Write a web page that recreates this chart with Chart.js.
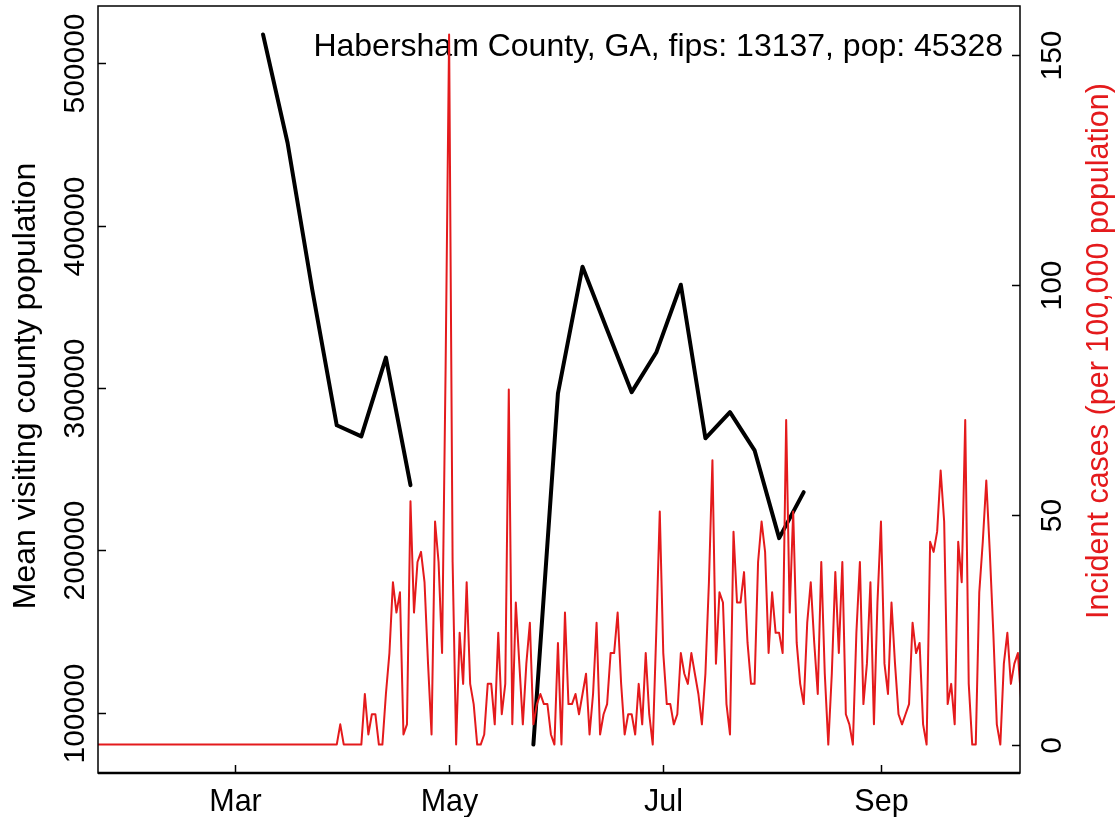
<!DOCTYPE html>
<html>
<head>
<meta charset="utf-8">
<script src="https://cdn.jsdelivr.net/npm/chart.js@4.4.1/dist/chart.umd.min.js"></script>
<style>
  html, body { margin: 0; padding: 0; background: white; }
  #wrap { width: 1119px; height: 817px; }
</style>
</head>
<body>
<div id="wrap"><canvas id="chart" width="1119" height="817"></canvas></div>
<script>
const countyLabel = "Habersham County, GA, fips: 13137, pop: 45328"
const leftTitle = "Mean visiting county population"
const rightTitle = "Incident cases (per 100,000 population)"

// x is days since 2020-01-22
const monthTicks = [39, 100, 161, 223]
const monthLabels = ["Mar", "May", "Jul", "Sep"]
const leftTicks = [100000, 200000, 300000, 400000, 500000]
const rightTicks = [0, 50, 100, 150]

// weekly mean visiting county population (black), null = no data
const visitDays = [47, 54, 61, 68, 75, 82, 89, 96, 103, 110, 117, 124, 131, 138, 145, 152, 159, 166, 173, 180, 187, 194, 201]
const visitors = [517800, 450900, 360800, 277000, 270200, 318700, 240100, null, null, null, null,
    80300, 296600, 374700, 335900, 297400, 321800, 363600, 269000, 285100, 261600, 207500, 235800]

// daily incident cases per 100,000 (red), one value per day from 2020-01-22
const incidence = [
    0, 0, 0, 0, 0, 0, 0, 0, 0, 0,
    0, 0, 0, 0, 0, 0, 0, 0, 0, 0,
    0, 0, 0, 0, 0, 0, 0, 0, 0, 0,
    0, 0, 0, 0, 0, 0, 0, 0, 0, 0,
    0, 0, 0, 0, 0, 0, 0, 0, 0, 0,
    0, 0, 0, 0, 0, 0, 0, 0, 0, 0,
    0, 0, 0, 0, 0, 0, 0, 0, 0, 4.4,
    0, 0, 0, 0, 0, 0, 11.0, 2.2, 6.6, 6.6,
    0, 0, 11.0, 19.9, 35.3, 28.7, 33.1, 2.2, 4.4, 52.9,
    28.7, 39.7, 41.9, 35.3, 17.6, 2.2, 48.5, 39.7, 19.9, 81.6,
    154.4, 39.7, 0, 24.3, 13.2, 35.3, 13.2, 8.8, 0, 0,
    2.2, 13.2, 13.2, 4.4, 24.3, 6.6, 13.2, 77.2, 4.4, 30.9,
    17.6, 4.4, 17.6, 26.5, 4.4, 8.8, 11.0, 8.8, 8.8, 2.2,
    0, 22.1, 0, 28.7, 8.8, 8.8, 11.0, 6.6, 11.0, 15.4,
    2.2, 11.0, 26.5, 2.2, 6.6, 8.8, 19.9, 19.9, 28.7, 13.2,
    2.2, 6.6, 6.6, 2.2, 13.2, 4.4, 19.9, 6.6, 0, 24.3,
    50.7, 19.9, 8.8, 8.8, 4.4, 6.6, 19.9, 15.4, 13.2, 19.9,
    15.4, 11.0, 4.4, 15.4, 35.3, 61.8, 17.6, 33.1, 30.9, 8.8,
    2.2, 46.3, 30.9, 30.9, 37.5, 22.1, 13.2, 13.2, 39.7, 48.5,
    41.9, 19.9, 33.1, 24.3, 24.3, 19.9, 70.6, 28.7, 50.7, 22.1,
    13.2, 8.8, 26.5, 35.3, 22.1, 11.0, 39.7, 15.4, 0, 15.4,
    37.5, 19.9, 39.7, 6.6, 4.4, 0, 24.3, 39.7, 8.8, 17.6,
    35.3, 4.4, 30.9, 48.5, 17.6, 11.0, 30.9, 17.6, 6.6, 4.4,
    6.6, 8.8, 26.5, 19.9, 22.1, 4.4, 0, 44.1, 41.9, 46.3,
    59.6, 48.5, 8.8, 13.2, 4.4, 44.1, 35.3, 70.6, 13.2, 0,
    0, 33.1, 44.1, 57.4, 41.9, 24.3, 4.4, 0, 17.6, 24.3,
    13.2, 17.6, 19.9, 8.8
]

const RED = "#e41a1c"
const FONT = "'Liberation Sans', Arial, Helvetica, sans-serif"

// R style box, inward ticks and rotated labels
const rAxes = {
    id: 'rAxes',
    beforeDatasetsDraw(chart) {
        const ctx = chart.ctx
        ctx.save()
        ctx.fillStyle = "black"
        ctx.font = "32px " + FONT
        ctx.textAlign = "right"
        ctx.textBaseline = "alphabetic"
        ctx.fillText(countyLabel, 1003, 56)
        ctx.restore()
    },
    afterDraw(chart) {
        const ctx = chart.ctx
        const area = chart.chartArea
        const x = chart.scales.x
        const yL = chart.scales.yL
        const yR = chart.scales.yR
        const tl = 8
        ctx.save()
        ctx.strokeStyle = "black"
        ctx.lineWidth = 1.5
        ctx.strokeRect(area.left, area.top, area.right - area.left, area.bottom - area.top)
        ctx.lineWidth = 2.5
        ctx.beginPath()
        ctx.moveTo(area.left, area.bottom)
        ctx.lineTo(area.right, area.bottom)
        ctx.stroke()

        ctx.lineWidth = 1.5
        ctx.fillStyle = "black"

        // x axis
        ctx.font = "30.5px " + FONT
        ctx.textAlign = "center"
        ctx.textBaseline = "alphabetic"
        monthTicks.forEach((v, i) => {
            const px = Math.round(x.getPixelForValue(v)) + 0.5
            ctx.beginPath()
            ctx.moveTo(px, area.bottom)
            ctx.lineTo(px, area.bottom - tl)
            ctx.stroke()
            ctx.fillText(monthLabels[i], px, 811)
        })

        // left axis
        ctx.font = "30px " + FONT
        leftTicks.forEach(v => {
            const py = Math.round(yL.getPixelForValue(v)) + 0.5
            ctx.beginPath()
            ctx.moveTo(area.left, py)
            ctx.lineTo(area.left + tl, py)
            ctx.stroke()
            ctx.save()
            ctx.translate(84, py)
            ctx.rotate(-Math.PI / 2)
            ctx.fillText(String(v), 0, 0)
            ctx.restore()
        })

        // right axis
        rightTicks.forEach(v => {
            const py = Math.round(yR.getPixelForValue(v)) + 0.5
            ctx.beginPath()
            ctx.moveTo(area.right, py)
            ctx.lineTo(area.right - tl, py)
            ctx.stroke()
            ctx.save()
            ctx.translate(1061, py)
            ctx.rotate(-Math.PI / 2)
            ctx.fillText(String(v), 0, 0)
            ctx.restore()
        })

        // axis titles
        ctx.save()
        ctx.font = "32px " + FONT
        ctx.translate(35, 386)
        ctx.rotate(-Math.PI / 2)
        ctx.fillText(leftTitle, 0, 0)
        ctx.restore()

        ctx.save()
        ctx.font = "30.5px " + FONT
        ctx.fillStyle = RED
        ctx.translate(1108, 351)
        ctx.rotate(-Math.PI / 2)
        ctx.fillText(rightTitle, 0, 0)
        ctx.restore()

        ctx.restore()
    }
}

Chart.register({
    id: 'whiteBackground',
    beforeDraw(chart) {
        const ctx = chart.ctx
        ctx.fillStyle = "white"
        ctx.fillRect(0, 0, chart.width, chart.height)
    }
})

const ctx = document.getElementById("chart").getContext("2d")
const chart = new Chart(ctx, {
    type: "line",
    data: {
        datasets: [{
            label: "Incident cases",
            data: incidence.map((v, i) => ({ x: i, y: v })),
            yAxisID: "yR",
            borderColor: RED,
            borderWidth: 2,
            pointRadius: 0,
            tension: 0,
            borderJoinStyle: "round",
            borderCapStyle: "round",
            order: 0
        }, {
            label: "Mean visiting county population",
            data: visitDays.map((d, i) => ({ x: d, y: visitors[i] })),
            yAxisID: "yL",
            borderColor: "black",
            borderWidth: 4,
            pointRadius: 0,
            tension: 0,
            spanGaps: false,
            borderJoinStyle: "round",
            borderCapStyle: "round",
            order: 1
        }]
    },
    options: {
        responsive: false,
        animation: false,
        devicePixelRatio: 1,
        layout: { padding: { left: 98, right: 99, top: 6, bottom: 44 } },
        scales: {
            x: { type: "linear", min: 0, max: 262.6, display: false },
            yL: { type: "linear", position: "left", min: 62800, max: 535300, display: false },
            yR: { type: "linear", position: "right", min: -6.18, max: 160.6, display: false }
        },
        plugins: {
            legend: { display: false },
            tooltip: { enabled: false }
        }
    },
    plugins: [rAxes]
})
</script>
</body>
</html>
